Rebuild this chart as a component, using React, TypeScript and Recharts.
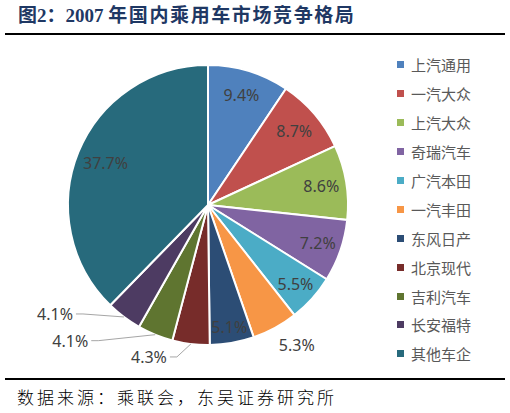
import React from 'react';
import { PieChart, Pie, Cell, Legend } from 'recharts';

const companies = ['上汽通用', '一汽大众', '上汽大众', '奇瑞汽车', '广汽本田', '一汽丰田', '东风日产', '北京现代', '吉利汽车', '长安福特', '其他车企'];
const shares = [9.4, 8.7, 8.6, 7.2, 5.5, 5.3, 5.1, 4.3, 4.1, 4.1, 37.7];
const colors = ['#4F81BD', '#C0504D', '#9BBB59', '#8064A2', '#4BACC6', '#F79646', '#2C4D75', '#772C2A', '#5F7530', '#4D3B62', '#276A7C'];

const chartData = companies.map((name, i) => ({ name, value: shares[i] }));

// where each percentage sits: fraction of the radius, or a leader line offset for the thin slices
const labelRadius = [0.82, 0.81, 0.82, 0.83, 0.84, 1.19, 0.885, 1, 1, 1, 0.79];
const labelNudge: Record<number, [number, number]> = { 5: [9, -6] };
const leaderOffset: Record<number, [number, number]> = { 7: [-24, 13], 8: [-67, 6], 9: [-51, -3] };

const RAD = Math.PI / 180;
const labelFont = '"Noto Sans", "Open Sans", sans-serif';

const renderLabel = (props: any) => {
  const { cx, cy, midAngle, outerRadius, index, value } = props;
  const cos = Math.cos(-midAngle * RAD);
  const sin = Math.sin(-midAngle * RAD);
  const text = `${value.toFixed(1)}%`;
  const off = leaderOffset[index];
  if (off) {
    const ex = cx + outerRadius * cos;
    const ey = cy + outerRadius * sin;
    const tx = ex + off[0];
    const ty = ey + off[1];
    return (
      <g key={`lbl-${index}`}>
        <polyline
          points={`${ex},${ey} ${tx + 10},${ty} ${tx + 3},${ty}`}
          fill="none"
          stroke="#a6a6a6"
          strokeWidth={1}
        />
        <text x={tx} y={ty} textAnchor="end" dominantBaseline="central" fill="#404040" fontSize={16} fontFamily={labelFont}>
          {text}
        </text>
      </g>
    );
  }
  const r = outerRadius * labelRadius[index];
  const [nx, ny] = labelNudge[index] || [0, 0];
  return (
    <text
      key={`lbl-${index}`}
      x={cx + r * cos + nx}
      y={cy + r * sin + ny}
      textAnchor="middle"
      dominantBaseline="central"
      fill="#404040"
      fontSize={16}
      fontFamily={labelFont}
    >
      {text}
    </text>
  );
};

const renderLegend = () => (
  <div>
    {companies.map((name, i) => (
      <div key={name} style={{ display: 'flex', alignItems: 'center', height: 28.9 }}>
        <span style={{ display: 'inline-block', width: 7, height: 7, background: colors[i], marginRight: 7 }} />
        <span style={{ fontSize: 15, color: '#595959', fontFamily: '"Noto Sans CJK SC", sans-serif' }}>{name}</span>
      </div>
    ))}
  </div>
);

export default function App() {
  return (
    <div style={{ position: 'absolute', left: 0, top: 0, width: 510, height: 413, background: '#fff', overflow: 'hidden' }}>
      <div
        style={{
          position: 'absolute',
          left: 18,
          top: 3,
          fontSize: 19,
          fontWeight: 'bold',
          color: '#1F3864',
          fontFamily: '"Liberation Serif", "Noto Sans CJK SC", serif',
          whiteSpace: 'nowrap',
          lineHeight: '26px',
        }}
      >
        图2：2007 <span style={{ letterSpacing: 1.6 }}>年国内乘用车市场竞争格局</span>
      </div>
      <div style={{ position: 'absolute', left: 5, top: 33, width: 500, height: 2, background: '#000' }} />

      <div style={{ position: 'absolute', left: 0, top: 0 }}>
        <PieChart width={510} height={378} margin={{ top: 0, right: 0, bottom: 0, left: 0 }}>
          <Pie
            data={chartData}
            dataKey="value"
            nameKey="name"
            cx={208}
            cy={205}
            outerRadius={140}
            startAngle={90}
            endAngle={-270}
            stroke="#fff"
            strokeWidth={2}
            label={renderLabel}
            labelLine={false}
            isAnimationActive={false}
          >
            {chartData.map((d, i) => (
              <Cell key={d.name} fill={colors[i]} />
            ))}
          </Pie>
          <Legend
            layout="vertical"
            align="right"
            verticalAlign="top"
            content={renderLegend}
            wrapperStyle={{ left: 397, top: 50.5, width: 110 }}
          />
        </PieChart>
      </div>

      <div style={{ position: 'absolute', left: 5, top: 378, width: 500, height: 2, background: '#000' }} />
      <div
        style={{
          position: 'absolute',
          left: 17,
          top: 385,
          fontSize: 17,
          letterSpacing: 3,
          color: '#000',
          fontFamily: '"Noto Sans CJK SC", sans-serif',
          fontWeight: 300,
          whiteSpace: 'nowrap',
          lineHeight: '24px',
        }}
      >
        数据来源：乘联会，东吴证券研究所
      </div>
    </div>
  );
}
